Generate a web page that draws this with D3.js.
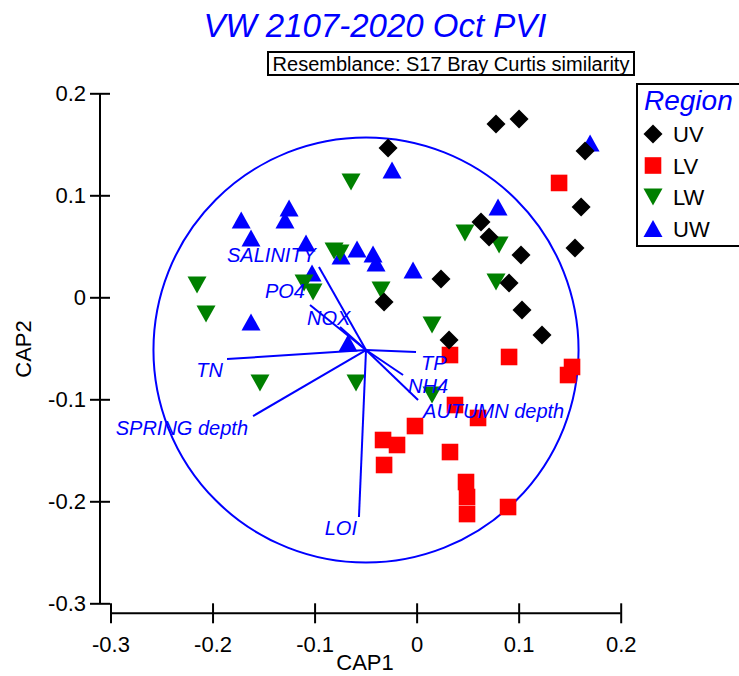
<!DOCTYPE html>
<html>
<head>
<meta charset="utf-8">
<script src="https://cdn.jsdelivr.net/npm/d3@7"></script>
<style>
  html, body { margin: 0; padding: 0; background: #fff; }
  svg { display: block; font-family: "Liberation Sans", Arial, sans-serif; }
</style>
</head>
<body>
<svg id="chart" width="739" height="676"></svg>
<script>
// CAP ordination scores, one array pair per region
const uvX = [-0.0280, 0.0778, 0.1004, 0.1651, 0.1612, 0.1552, 0.0631, 0.0710, 0.1023, 0.0239, 0.0906, -0.0319, 0.1033, 0.1229, 0.0318];
const uvY = [0.1464, 0.1699, 0.1748, 0.1434, 0.0885, 0.0483, 0.0738, 0.0591, 0.0415, 0.0179, 0.0140, -0.0046, -0.0125, -0.0370, -0.0419];

const lvX = [0.1396, 0.0327, 0.0906, 0.1523, 0.1484, 0.0376, 0.0602, -0.0016, -0.0329, -0.0192, 0.0327, -0.0319, 0.0484, 0.0494, 0.0494, 0.0896];
const lvY = [0.1121, -0.0566, -0.0585, -0.0683, -0.0762, -0.1056, -0.1183, -0.1262, -0.1399, -0.1448, -0.1517, -0.1644, -0.1811, -0.1958, -0.2125, -0.2056];

const lwX = [-0.0643, -0.2152, -0.2064, -0.1535, -0.1103, -0.1015, -0.0809, -0.0751, -0.0349, -0.0594, 0.0151, 0.0151, 0.0474, 0.0808, 0.0778];
const lwY = [0.1130, 0.0121, -0.0164, -0.0840, 0.0140, 0.0052, 0.0454, 0.0434, 0.0072, -0.0840, -0.0272, -0.0958, 0.0630, 0.0513, 0.0150];

const uwX = [-0.0241, -0.1719, -0.1250, -0.1290, -0.1623, -0.1084, -0.0741, -0.0584, -0.0427, -0.0398, -0.0035, -0.1025, 0.0798, 0.1700, -0.1623, -0.0672];
const uwY = [0.1248, 0.0758, 0.0875, 0.0758, 0.0581, 0.0532, 0.0405, 0.0474, 0.0425, 0.0336, 0.0268, 0.0238, 0.0885, 0.1513, -0.0242, -0.0448];

// Environmental vectors (end points; all start at the circle centre)
const vecNames = ["SALINITY", "PO4", "NOX", "TN", "SPRING depth", "LOI", "TP", "NH4", "AUTUMN depth"];
const vecX = [-0.0957, -0.1045, -0.0751, -0.1858, -0.1603, -0.0565, -0.0006, -0.0133, 0.0014];
const vecY = [0.0297, -0.0075, -0.0291, -0.0605, -0.1164, -0.2154, -0.0536, -0.0762, -0.1007];

// Correlation circle
const circleCentre = [-0.0496, -0.0517];
const circleRadius = 0.2083;

const xTicks = [-0.3, -0.2, -0.1, 0, 0.1, 0.2];
const yTicks = [-0.3, -0.2, -0.1, 0, 0.1, 0.2];
const regions = ["UV", "LV", "LW", "UW"];

const BLUE = "#0000ff";
const colours = { UV: "#000000", LV: "#ff0000", LW: "#008000", UW: "#0000ff" };

const svg = d3.select("#chart");
const x = d3.scaleLinear().domain([-0.3, 0.2]).range([110.5, 620.7]);
const y = d3.scaleLinear().domain([-0.3, 0.2]).range([603.3, 93.3]);
const pxPerUnit = x(1) - x(0);
const tickFmt = d => (Math.abs(d) < 1e-9 ? "0" : d.toFixed(1));

// marker shapes centred on (0,0)
const shapes = {
  UV: "M0,-9.5L9.5,0L0,9.5L-9.5,0Z",
  LV: "M-8.3,-8.3H8.3V8.3H-8.3Z",
  LW: "M-9.5,-8.5H9.5L0,8.5Z",
  UW: "M0,-8.5L9.5,8.5H-9.5Z"
};

// Title
svg.append("text")
  .attr("x", 375).attr("y", 37)
  .attr("text-anchor", "middle")
  .attr("font-size", 33).attr("font-style", "italic")
  .attr("fill", BLUE)
  .text("VW 2107-2020 Oct PVI");

// Resemblance box
svg.append("rect")
  .attr("x", 268).attr("y", 52).attr("width", 366).attr("height", 23)
  .attr("fill", "none").attr("stroke", "#000").attr("stroke-width", 2);
svg.append("text")
  .attr("x", 451).attr("y", 70.5)
  .attr("text-anchor", "middle").attr("font-size", 20)
  .text("Resemblance: S17 Bray Curtis similarity");

// Axes
const yAxis = d3.axisLeft(y).tickValues(yTicks).tickSize(10).tickSizeOuter(0).tickPadding(4).tickFormat(tickFmt);
const gy = svg.append("g").attr("transform", "translate(100,0)").call(yAxis);
gy.select(".domain").attr("d", `M0,${y(0.2)}V${y(-0.3)}`).attr("stroke-width", 2);
gy.selectAll(".tick line").attr("x1", 10).attr("stroke-width", 2);
gy.selectAll(".tick text").attr("font-size", 22).attr("font-family", "Liberation Sans, Arial, sans-serif").attr("fill", "#000");

const xAxis = d3.axisBottom(x).tickValues(xTicks).tickSize(10).tickSizeOuter(0).tickPadding(13).tickFormat(tickFmt);
const gx = svg.append("g").attr("transform", "translate(0,613.3)").call(xAxis);
gx.select(".domain").attr("d", `M${x(-0.3)},0H${x(0.2)}`).attr("stroke-width", 2);
gx.selectAll(".tick line").attr("y1", -10).attr("stroke-width", 2);
gx.selectAll(".tick text").attr("font-size", 22).attr("font-family", "Liberation Sans, Arial, sans-serif").attr("fill", "#000");

// Axis titles
svg.append("text")
  .attr("x", 365).attr("y", 670)
  .attr("text-anchor", "middle").attr("font-size", 22)
  .text("CAP1");
svg.append("text")
  .attr("transform", "translate(31,349) rotate(-90)")
  .attr("text-anchor", "middle").attr("font-size", 22)
  .text("CAP2");

// Correlation circle
svg.append("circle")
  .attr("cx", x(circleCentre[0])).attr("cy", y(circleCentre[1]))
  .attr("r", circleRadius * pxPerUnit)
  .attr("fill", "none").attr("stroke", BLUE).attr("stroke-width", 2);

// Points (drawn in reverse legend order so UV sits on top)
const series = {
  UV: d3.zip(uvX, uvY),
  LV: d3.zip(lvX, lvY),
  LW: d3.zip(lwX, lwY),
  UW: d3.zip(uwX, uwY)
};
["UW", "LW", "LV", "UV"].forEach(r => {
  svg.append("g").selectAll("path").data(series[r]).join("path")
    .attr("d", shapes[r])
    .attr("transform", d => `translate(${x(d[0])},${y(d[1])})`)
    .attr("fill", colours[r]);
});

// Vectors
const ox = x(circleCentre[0]), oy = y(circleCentre[1]);
const vectors = vecNames.map((n, i) => ({ name: n, x: vecX[i], y: vecY[i] }));
svg.append("g").selectAll("line").data(vectors).join("line")
  .attr("x1", ox).attr("y1", oy)
  .attr("x2", d => x(d.x)).attr("y2", d => y(d.y))
  .attr("stroke", BLUE).attr("stroke-width", 2);

// label placement relative to each vector tip: [dx, dy, anchor]
const labelOffset = {
  "SALINITY": [-3, -5, "end"],
  "PO4": [-5, -7, "end"],
  "NOX": [-33, -2, "start"],
  "TN": [-4, 18, "end"],
  "SPRING depth": [-5, 19, "end"],
  "LOI": [-2, 18, "end"],
  "TP": [5, 18, "start"],
  "NH4": [5, 18, "start"],
  "AUTUMN depth": [5, 18, "start"]
};
svg.append("g").selectAll("text").data(vectors).join("text")
  .attr("x", d => x(d.x) + labelOffset[d.name][0])
  .attr("y", d => y(d.y) + labelOffset[d.name][1])
  .attr("text-anchor", d => labelOffset[d.name][2])
  .attr("font-size", 20).attr("font-style", "italic")
  .attr("fill", BLUE)
  .text(d => d.name);

// Legend
const lg = svg.append("g");
lg.append("rect")
  .attr("x", 637).attr("y", 84).attr("width", 120).attr("height", 162)
  .attr("fill", "#fff").attr("stroke", "#000").attr("stroke-width", 2);
lg.append("text")
  .attr("x", 644).attr("y", 110)
  .attr("font-size", 28).attr("font-style", "italic").attr("fill", BLUE)
  .text("Region");
regions.forEach((r, i) => {
  const cy = 134 + i * 31.5;
  lg.append("path").attr("d", shapes[r]).attr("transform", `translate(653,${cy})`).attr("fill", colours[r]);
  lg.append("text").attr("x", 673).attr("y", cy + 8).attr("font-size", 22).text(r);
});
</script>
</body>
</html>
